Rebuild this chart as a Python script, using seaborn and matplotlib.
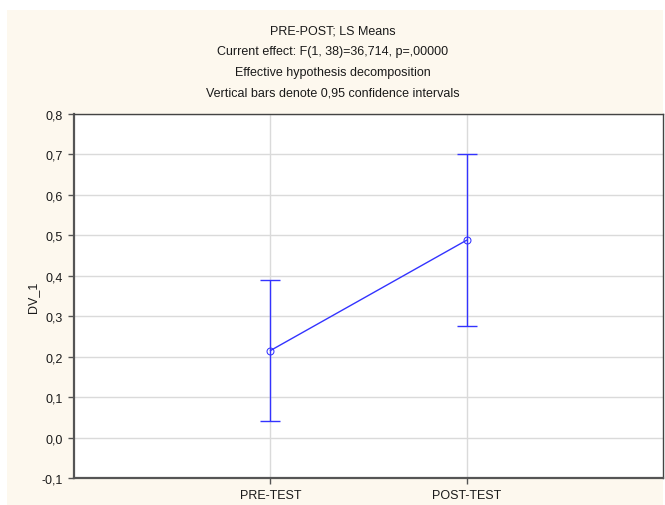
import matplotlib
matplotlib.use("Agg")
import matplotlib.pyplot as plt
import seaborn as sns
from matplotlib.patches import Rectangle
from matplotlib.ticker import FuncFormatter

# LS means with 0,95 confidence intervals
conditions = ["PRE-TEST", "POST-TEST"]
means = [0.215, 0.488]
ci_low = [0.040, 0.277]
ci_high = [0.390, 0.700]

title_lines = [
    "PRE-POST; LS Means",
    "Current effect: F(1, 38)=36,714, p=,00000",
    "Effective hypothesis decomposition",
    "Vertical bars denote 0,95 confidence intervals",
]
y_ticks = [-0.1, 0.0, 0.1, 0.2, 0.3, 0.4, 0.5, 0.6, 0.7, 0.8]

sns.set_style("white")
plt.rcParams["font.family"] = ["Liberation Sans", "DejaVu Sans"]

blue = "#3333ff"
fig = plt.figure(figsize=(6.65, 5.06), dpi=100, facecolor="white")
# cream panel behind the chart
fig.patches.append(Rectangle((7 / 665, 0), 656 / 665, 495 / 506, transform=fig.transFigure,
                             facecolor="#fdf8ee", edgecolor="none", zorder=-1))

ax = fig.add_axes([74 / 665, 27 / 506, 589 / 665, 364 / 506])
ax.set_facecolor("white")

sns.pointplot(x=conditions, y=means, errorbar=None, color=blue, markers="o",
              markerfacecolor="none", markersize=5, linewidth=1, ax=ax, zorder=3)

err_low = [m - lo for m, lo in zip(means, ci_low)]
err_high = [hi - m for m, hi in zip(means, ci_high)]
ax.errorbar(range(len(conditions)), means, yerr=[err_low, err_high], fmt="none",
            ecolor=blue, elinewidth=1, capsize=7, capthick=1, zorder=3)

ax.set_xlim(-1, 2)
ax.set_ylim(-0.1, 0.8)
ax.set_yticks(y_ticks)
ax.yaxis.set_major_formatter(FuncFormatter(lambda v, p: f"{v:.1f}".replace(".", ",")))
ax.grid(True, color="#dadada", linewidth=1)
ax.set_axisbelow(True)
ax.tick_params(axis="both", which="major", direction="out", length=4, width=1,
               color="#555555", labelsize=9, labelcolor="#1a1a1a", pad=4)
ax.tick_params(left=True, bottom=True)
ax.set_xlabel("")
ax.set_ylabel("DV_1", fontsize=9, color="#1a1a1a", labelpad=2)
for side in ["left", "bottom"]:
    ax.spines[side].set_color("#555555")
    ax.spines[side].set_linewidth(1.6)
for side in ["top", "right"]:
    ax.spines[side].set_color("#444444")
    ax.spines[side].set_linewidth(1.0)

for i, line in enumerate(title_lines):
    fig.text(0.5, 1 - (31.5 + i * 20.6) / 506, line, ha="center", va="center",
             fontsize=9, color="#1a1a1a")

fig.savefig("out.png", dpi=100, facecolor=fig.get_facecolor())
